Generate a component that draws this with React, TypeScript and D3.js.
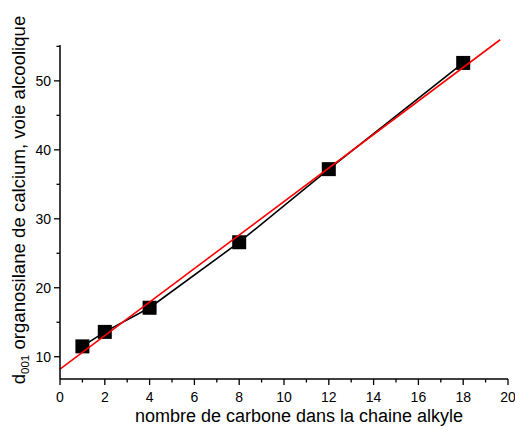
import React from "react";
import * as d3 from "d3";

const carbons = [1, 2, 4, 8, 12, 18];
const d001 = [11.5, 13.6, 17.1, 26.6, 37.2, 52.6];
const fitSlope = 2.43;
const fitIntercept = 8.21;
const fitRange = [0, 19.65];
const xTicks = [0, 2, 4, 6, 8, 10, 12, 14, 16, 18, 20];
const yTicks = [10, 20, 30, 40, 50];
const xMinor = [1, 3, 5, 7, 9, 11, 13, 15, 17, 19];
const yMinor = [15, 25, 35, 45, 55];
const xLabel = "nombre de carbone dans la chaine alkyle";
const yLabelMain = "d";
const yLabelSub = "001";
const yLabelRest = " organosilane de calcium, voie alcoolique";

const W = 515, H = 429;
const left = 60, right = 508, top = 45, bottom = 379;

export default function App() {
  const x = d3.scaleLinear().domain([0, 20]).range([left, right]);
  const y = d3.scaleLinear().domain([6.77, 55.2]).range([bottom, top]);
  const line = d3.line<number>().x((_, i) => x(carbons[i])).y((v) => y(v));
  const fit = fitRange.map((v) => [x(v), y(fitIntercept + fitSlope * v)]);
  const font = "Liberation Sans, Arial, sans-serif";
  const sq = 14;
  return (
    <svg width={W} height={H} style={{ position: "absolute", left: 0, top: 0, background: "#fff" }} fontFamily={font}>
      <path d={line(d001) || ""} fill="none" stroke="#000" strokeWidth={1.6} />
      {carbons.map((c, i) => (
        <rect key={i} x={x(c) - sq / 2} y={y(d001[i]) - sq / 2} width={sq} height={sq} fill="#000" />
      ))}
      <line x1={fit[0][0]} y1={fit[0][1]} x2={fit[1][0]} y2={fit[1][1]} stroke="#ff0000" strokeWidth={1.6} />
      {/* axes */}
      <line x1={left} y1={top} x2={left} y2={bottom} stroke="#000" strokeWidth={1.5} />
      <line x1={left} y1={bottom} x2={right} y2={bottom} stroke="#000" strokeWidth={1.5} />
      {xTicks.map((t) => (
        <g key={"xt" + t}>
          <line x1={x(t)} x2={x(t)} y1={bottom} y2={bottom + 6} stroke="#000" strokeWidth={1.3} />
          <text x={x(t)} y={bottom + 23} fontSize={14} textAnchor="middle">{t}</text>
        </g>
      ))}
      {xMinor.map((t) => (
        <line key={"xm" + t} x1={x(t)} x2={x(t)} y1={bottom} y2={bottom + 3.5} stroke="#000" strokeWidth={1.3} />
      ))}
      {yTicks.map((t) => (
        <g key={"yt" + t}>
          <line x1={left - 6} x2={left} y1={y(t)} y2={y(t)} stroke="#000" strokeWidth={1.3} />
          <text x={left - 9} y={y(t) + 5} fontSize={14} textAnchor="end">{t}</text>
        </g>
      ))}
      {yMinor.map((t) => (
        <line key={"ym" + t} x1={left - 3.5} x2={left} y1={y(t)} y2={y(t)} stroke="#000" strokeWidth={1.3} />
      ))}
      <text x={299} y={422} fontSize={18} textAnchor="middle">{xLabel}</text>
      <text transform={`translate(25, ${200}) rotate(-90)`} fontSize={18.6} textAnchor="middle">
        <tspan>{yLabelMain}</tspan>
        <tspan fontSize={11.5} dy={4}>{yLabelSub}</tspan>
        <tspan dy={-4}>{yLabelRest}</tspan>
      </text>
    </svg>
  );
}
